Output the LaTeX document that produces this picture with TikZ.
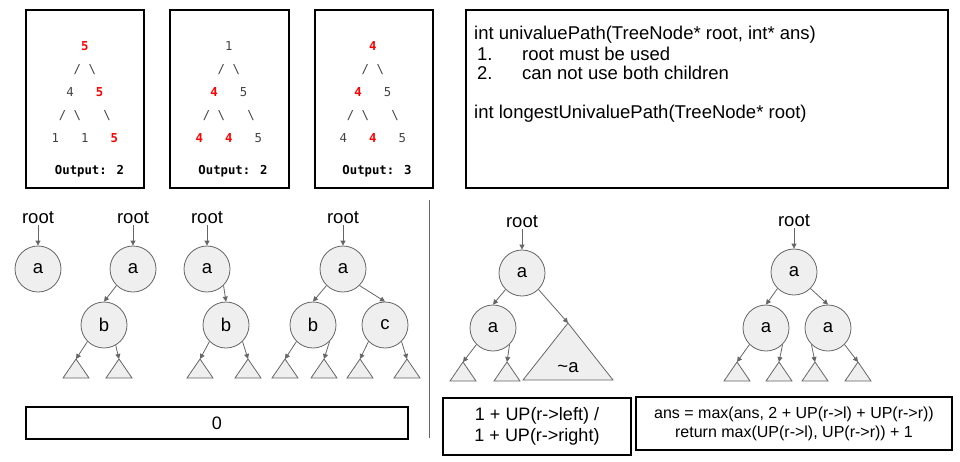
\documentclass[tikz,border=0pt]{standalone}
\usepackage{fontspec}
\setmainfont{Liberation Sans}
\newfontfamily\monofont{DejaVu Sans Mono}
\usetikzlibrary{arrows.meta}
\definecolor{nodefill}{HTML}{EFEFEF}
\definecolor{nodeline}{HTML}{666666}
\definecolor{hlred}{HTML}{FF0000}
\definecolor{numgray}{HTML}{434343}
\newcommand{\redval}[1]{{\bfseries\color{hlred}#1}}

\begin{document}
\begin{tikzpicture}[x=1pt,y=-1pt,
    tnode/.style={circle,draw=nodeline,fill=nodefill,line width=0.8pt,minimum size=46pt,inner sep=0pt,font=\fontsize{18.5}{20}\selectfont},
    arr/.style={draw=nodeline,line width=0.8pt,-{Triangle[length=5pt,width=5pt]}},
    leaf/.style={draw=nodeline,fill=nodefill,line width=0.8pt},
    lbl/.style={font=\fontsize{18.5}{20}\selectfont,inner sep=1pt},
    codebox/.style={draw=black,line width=1.3pt},
    mono/.style={font=\monofont\fontsize{12.3}{14}\selectfont,text=numgray,inner sep=0pt,anchor=base west},
    outlbl/.style={font=\monofont\bfseries\fontsize{12.3}{14}\selectfont,inner sep=0pt}]
    \useasboundingbox (0,0) rectangle (960,461);

    % examples
    \draw[codebox] (26,10) rectangle (144,188);
    \node[mono] (e1r0) at (51.3,50.5) {\ \ \ \ \redval{5}};
    \node[mono] (e1r1) at (51.3,73.5) {\ \ \ /\ \textbackslash};
    \node[mono] (e1r2) at (51.3,96.5) {\ \ 4\ \ \ \redval{5}};
    \node[mono] (e1r3) at (51.3,119.5) {\ /\ \textbackslash\ \ \ \textbackslash};
    \node[mono] (e1r4) at (51.3,142.5) {1\ \ \ 1\ \ \ \redval{5}};
    \node[outlbl] (out1) at (89.5,171) {Output: 2};

    \draw[codebox] (170,10) rectangle (289,188);
    \node[mono] (e2r0) at (195.3,50.5) {\ \ \ \ 1};
    \node[mono] (e2r1) at (195.3,73.5) {\ \ \ /\ \textbackslash};
    \node[mono] (e2r2) at (195.3,96.5) {\ \ \redval{4}\ \ \ 5};
    \node[mono] (e2r3) at (195.3,119.5) {\ /\ \textbackslash\ \ \ \textbackslash};
    \node[mono] (e2r4) at (195.3,142.5) {\redval{4}\ \ \ \redval{4}\ \ \ 5};
    \node[outlbl] (out2) at (233,171) {Output: 2};

    \draw[codebox] (315,10) rectangle (433,188);
    \node[mono] (e3r0) at (339.3,50.5) {\ \ \ \ \redval{4}};
    \node[mono] (e3r1) at (339.3,73.5) {\ \ \ /\ \textbackslash};
    \node[mono] (e3r2) at (339.3,96.5) {\ \ \redval{4}\ \ \ 5};
    \node[mono] (e3r3) at (339.3,119.5) {\ /\ \textbackslash\ \ \ \textbackslash};
    \node[mono] (e3r4) at (339.3,142.5) {4\ \ \ \redval{4}\ \ \ 5};
    \node[outlbl] (out3) at (377,171) {Output: 3};

    % signatures
    \draw[codebox] (466,10) rectangle (948,188);
    \node[lbl,anchor=base west,inner sep=0pt] (sig1) at (474,39) {int univaluePath(TreeNode* root, int* ans)};
    \node[lbl,anchor=base west,inner sep=0pt] (n1) at (477,60) {1.};
    \node[lbl,anchor=base west,inner sep=0pt] (i1) at (522,60) {root must be used};
    \node[lbl,anchor=base west,inner sep=0pt] (n2) at (477,79.3) {2.};
    \node[lbl,anchor=base west,inner sep=0pt] (i2) at (522,79.3) {can not use both children};
    \node[lbl,anchor=base west,inner sep=0pt] (sig2) at (474,118) {int longestUnivaluePath(TreeNode* root)};

    % leaves
    \foreach \n/\x/\y in {l2a/76/359,l2b/119/359,l3a/200/359,l3b/248/359,
        l4a/285/359,l4b/324/359,l4c/360/359,l4d/407/359,l5a/463/362,l5b/507/362,
        l6a/737/362,l6b/779/362,l6c/815/362,l6d/858/362}{
      \coordinate (\n) at (\x,\y);
      \draw[leaf] (\n) -- ++(-13,19) -- ++(26,0) -- cycle;
    }
    \coordinate (l5c) at (568,323);
    \draw[leaf] (l5c) -- ++(-45,57) -- ++(90,0) -- cycle;
    \node[lbl] (nota) at (568,368) {\textasciitilde a};

    % left trees
    \node[lbl] (r1) at (38,218) {root};
    \node[tnode] (a1) at (38,269) {a};
    \draw[arr] (r1) -- (a1);

    \node[lbl] (r2) at (133,218) {root};
    \node[tnode] (a2) at (133,269) {a};
    \node[tnode] (b2) at (104,325) {b};
    \draw[arr] (r2) -- (a2);
    \draw[arr] (a2.south west) -- (b2.north);
    \draw[arr] (b2.south west) -- (l2a);
    \draw[arr] (b2.-60) -- (l2b);

    \node[lbl] (r3) at (207,218) {root};
    \node[tnode] (a3) at (207,269) {a};
    \node[tnode] (b3) at (226,325) {b};
    \draw[arr] (r3) -- (a3);
    \draw[arr] (a3.south east) -- (b3.north);
    \draw[arr] (b3.south west) -- (l3a);
    \draw[arr] (b3.south east) -- (l3b);

    \node[lbl] (r4) at (343,218) {root};
    \node[tnode] (a4) at (343,269) {a};
    \node[tnode] (b4) at (313,325) {b};
    \node[tnode] (c4) at (385,325) {c};
    \draw[arr] (r4) -- (a4);
    \draw[arr] (a4.south west) -- (b4.north);
    \draw[arr] (a4.south east) -- (c4.north);
    \draw[arr] (b4.south west) -- (l4a);
    \draw[arr] (b4.south east) -- (l4b);
    \draw[arr] (c4.south west) -- (l4c);
    \draw[arr] (c4.south east) -- (l4d);

    \node[codebox,minimum width=382pt,minimum height=32pt,font=\fontsize{18}{20}\selectfont] (zero) at (217,423) {0};

    \draw[draw=nodeline,line width=1pt] (429,200) -- (429,438);

    % univaluePath
    \node[lbl] (r5) at (522,222) {root};
    \node[tnode] (a5) at (522,273) {a};
    \node[tnode] (b5) at (493,328) {a};
    \draw[arr] (r5) -- (a5);
    \draw[arr] (a5.south west) -- (b5.north);
    \draw[arr] (a5.south east) -- (l5c);
    \draw[arr] (b5.south west) -- (l5a);
    \draw[arr] (b5.south east) -- (l5b);
    \node[codebox,minimum width=188pt,minimum height=57pt,align=center,font=\fontsize{18}{21}\selectfont] (uni) at (537,426.5) {1 + UP(r->left) /\\1 + UP(r->right)};

    % longestUnivaluePath
    \node[lbl] (r6) at (794,221) {root};
    \node[tnode] (a6) at (794,272) {a};
    \node[tnode] (b6) at (766,328) {a};
    \node[tnode] (c6) at (828,328) {a};
    \draw[arr] (r6) -- (a6);
    \draw[arr] (a6.south west) -- (b6.north);
    \draw[arr] (a6.south east) -- (c6.north);
    \draw[arr] (b6.south west) -- (l6a);
    \draw[arr] (b6.south east) -- (l6b);
    \draw[arr] (c6.south west) -- (l6c);
    \draw[arr] (c6.south east) -- (l6d);
    \node[codebox,minimum width=316pt,minimum height=53pt,align=center,font=\fontsize{16}{19}\selectfont] (rec) at (794,423.5) {ans = max(ans, 2 + UP(r->l) + UP(r->r))\\return max(UP(r->l), UP(r->r)) + 1};
\end{tikzpicture}
\end{document}
